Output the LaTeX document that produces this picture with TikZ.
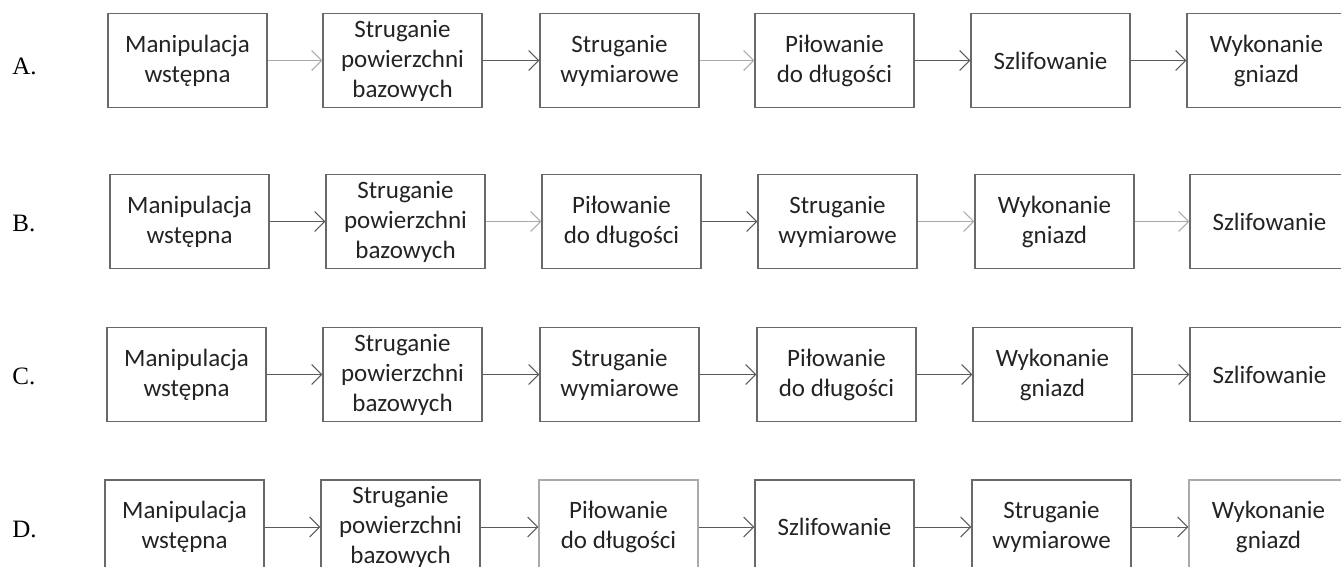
\documentclass[tikz,border=0pt]{standalone}
\usepackage{fontspec}
\setmainfont{Liberation Serif}
\newfontfamily\boxfont{Carlito}
\usepackage{tikz}
\usetikzlibrary{arrows.meta}

\definecolor{boxgray}{RGB}{105,105,105}
\definecolor{faintgray}{RGB}{170,170,170}
\definecolor{flowgray}{RGB}{90,90,90}
\definecolor{textgray}{RGB}{35,35,35}

\begin{document}
\begin{tikzpicture}[x=0.5pt,y=-0.5pt]
    \useasboundingbox (0,0) rectangle (1341,567);

    % row labels
    \begin{scope}[every node/.style={anchor=base west,inner sep=0pt,
                  font=\fontsize{12.5}{15}\selectfont,text=black}]
        \node (labA) at (12,75) {A.};
        \node (labB) at (12,232) {B.};
        \node (labC) at (12,385) {C.};
        \node (labD) at (12,537) {D.};
    \end{scope}

    \begin{scope}[every node/.style={draw=boxgray,line width=0.6pt,rectangle,
                  minimum width=79.5pt,minimum height=47pt,inner sep=0pt,
                  align=center,text=textgray,
                  font=\boxfont\fontsize{12.5}{15}\selectfont}]
        % A
        \node (A1) at (187.5,60.5) {Manipulacja\\wstępna};
        \node (A2) at (402.5,60.5) {Struganie\\powierzchni\\bazowych};
        \node (A3) at (619.5,60.5) {Struganie\\wymiarowe};
        \node (A4) at (834.5,60.5) {Piłowanie\\do długości};
        \node (A5) at (1050.5,60.5) {Szlifowanie};
        \node (A6) at (1266.5,60.5) {Wykonanie\\gniazd};
        % B
        \node (B1) at (189.5,221.5) {Manipulacja\\wstępna};
        \node (B2) at (405.5,221.5) {Struganie\\powierzchni\\bazowych};
        \node (B3) at (621.5,221.5) {Piłowanie\\do długości};
        \node (B4) at (837.5,221.5) {Struganie\\wymiarowe};
        \node (B5) at (1054.5,221.5) {Wykonanie\\gniazd};
        \node (B6) at (1269.5,221.5) {Szlifowanie};
        % C
        \node (C1) at (186.5,374.5) {Manipulacja\\wstępna};
        \node (C2) at (402.5,374.5) {Struganie\\powierzchni\\bazowych};
        \node (C3) at (619.5,374.5) {Struganie\\wymiarowe};
        \node (C4) at (836.5,374.5) {Piłowanie\\do długości};
        \node (C5) at (1052.5,374.5) {Wykonanie\\gniazd};
        \node (C6) at (1269.5,374.5) {Szlifowanie};
        % D
        \node (D1) at (184.5,527) {Manipulacja\\wstępna};
        \node (D2) at (400.5,527) {Struganie\\powierzchni\\bazowych};
        \node[draw=faintgray] (D3) at (618.5,527) {Piłowanie\\do długości};
        \node (D4) at (834.5,527) {Szlifowanie};
        \node (D5) at (1051.5,527) {Struganie\\wymiarowe};
        \node[draw=faintgray] (D6) at (1268.5,527) {Wykonanie\\gniazd};
    \end{scope}

    \begin{scope}[>={Straight Barb[length=5pt,width=10pt]},
                  every edge/.style={draw=flowgray,line width=0.5pt}]
        \path [->] (A1) edge[draw=faintgray] (A2);
        \path [->] (A2) edge (A3);
        \path [->] (A3) edge[draw=faintgray] (A4);
        \path [->] (A4) edge (A5);
        \path [->] (A5) edge (A6);

        \path [->] (B1) edge (B2);
        \path [->] (B2) edge[draw=faintgray] (B3);
        \path [->] (B3) edge (B4);
        \path [->] (B4) edge[draw=faintgray] (B5);
        \path [->] (B5) edge[draw=faintgray] (B6);

        \path [->] (C1) edge (C2);
        \path [->] (C2) edge (C3);
        \path [->] (C3) edge (C4);
        \path [->] (C4) edge (C5);
        \path [->] (C5) edge (C6);

        \path [->] (D1) edge (D2);
        \path [->] (D2) edge (D3);
        \path [->] (D3) edge (D4);
        \path [->] (D4) edge (D5);
        \path [->] (D5) edge (D6);
    \end{scope}
\end{tikzpicture}
\end{document}
